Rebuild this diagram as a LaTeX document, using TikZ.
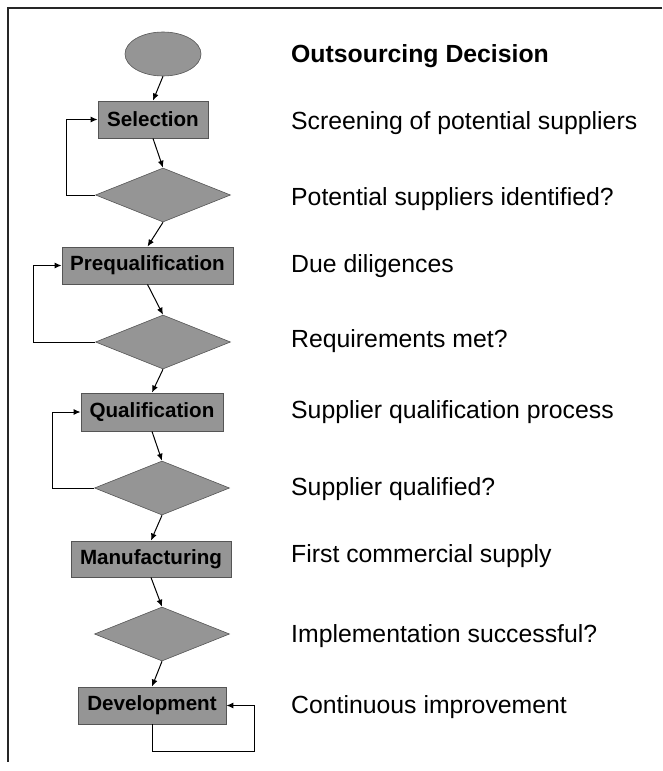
\documentclass[tikz,border=0pt]{standalone}
\usepackage{fontspec}
\setmainfont{Liberation Sans}
\usetikzlibrary{shapes.geometric,arrows.meta}
\definecolor{shapefill}{HTML}{959595}
\definecolor{shapeline}{HTML}{555555}
\begin{document}
\begin{tikzpicture}[x=1pt,y=-1pt,
  stepbox/.style={draw=shapeline,fill=shapefill,line width=0.9pt,inner sep=0pt,
    minimum height=37pt,font=\fontsize{20.6}{24}\selectfont\bfseries},
  decision/.style={diamond,draw=shapeline,fill=shapefill,line width=0.6pt,inner sep=0pt,
    minimum width=135pt,minimum height=54pt},
  startnode/.style={ellipse,draw=shapeline,fill=shapefill,line width=0.6pt,inner sep=0pt,
    minimum width=76pt,minimum height=44pt},
  flow/.style={line width=1pt,-{Latex[length=7pt,width=6pt]}},
  note/.style={anchor=base west,inner sep=0pt,font=\fontsize{24.8}{28}\selectfont},
]
\useasboundingbox (0,0) rectangle (662,771);
% frame
\draw[line width=1.6pt,black!85] (662,8) -- (8,8) -- (8,762);

% flow chart shapes
\node[startnode] (start) at (163,54) {};
\node[stepbox,minimum width=110pt] (sel) at (153,119.5) {Selection};
\node[decision] (d1) at (163,195) {};
\node[stepbox,minimum width=171pt] (pre) at (147.5,265.5) {Prequalification};
\node[decision] (d2) at (163,342) {};
\node[stepbox,minimum width=142pt,minimum height=38pt] (qual) at (152,412) {Qualification};
\node[decision] (d3) at (162,488) {};
\node[stepbox,minimum width=160pt,minimum height=36pt] (man) at (151,559) {Manufacturing};
\node[decision] (d4) at (162,634) {};
\node[stepbox,minimum width=148pt] (dev) at (152,705.5) {Development};

% main flow
\draw[flow] (start.south) -- (sel.north);
\draw[flow] (sel.south) -- (d1.north);
\draw[flow] (d1.south) -- (pre.north);
\draw[flow] (pre.south) -- (d2.north);
\draw[flow] (d2.south) -- (qual.north);
\draw[flow] (qual.south) -- (d3.north);
\draw[flow] (d3.south) -- (man.north);
\draw[flow] (man.south) -- (d4.north);
\draw[flow] (d4.south) -- (dev.north);

% feedback loops
\coordinate (l1) at (66,195);
\coordinate (l2) at (33,342);
\coordinate (l3) at (52,488);
\draw[flow] (d1.west) -- (l1) |- (sel.west);
\draw[flow] (d2.west) -- (l2) |- (pre.west);
\draw[flow] (d3.west) -- (l3) |- (qual.west);
\coordinate (l4) at (152,751);
\coordinate (l5) at (254,751);
\draw[flow] (dev.south) -- (l4) -- (l5) |- (dev.east);

% descriptions
\node[note,font=\fontsize{24.8}{28}\selectfont\bfseries] (t0) at (291,62) {Outsourcing Decision};
\node[note] (t1) at (291,129) {Screening of potential suppliers};
\node[note] (t2) at (291,205) {Potential suppliers identified?};
\node[note] (t3) at (291,272) {Due diligences};
\node[note] (t4) at (291,347) {Requirements met?};
\node[note] (t5) at (291,418) {Supplier qualification process};
\node[note] (t6) at (291,495) {Supplier qualified?};
\node[note] (t7) at (291,562) {First commercial supply};
\node[note] (t8) at (291,642) {Implementation successful?};
\node[note] (t9) at (291,713) {Continuous improvement};
\end{tikzpicture}
\end{document}
